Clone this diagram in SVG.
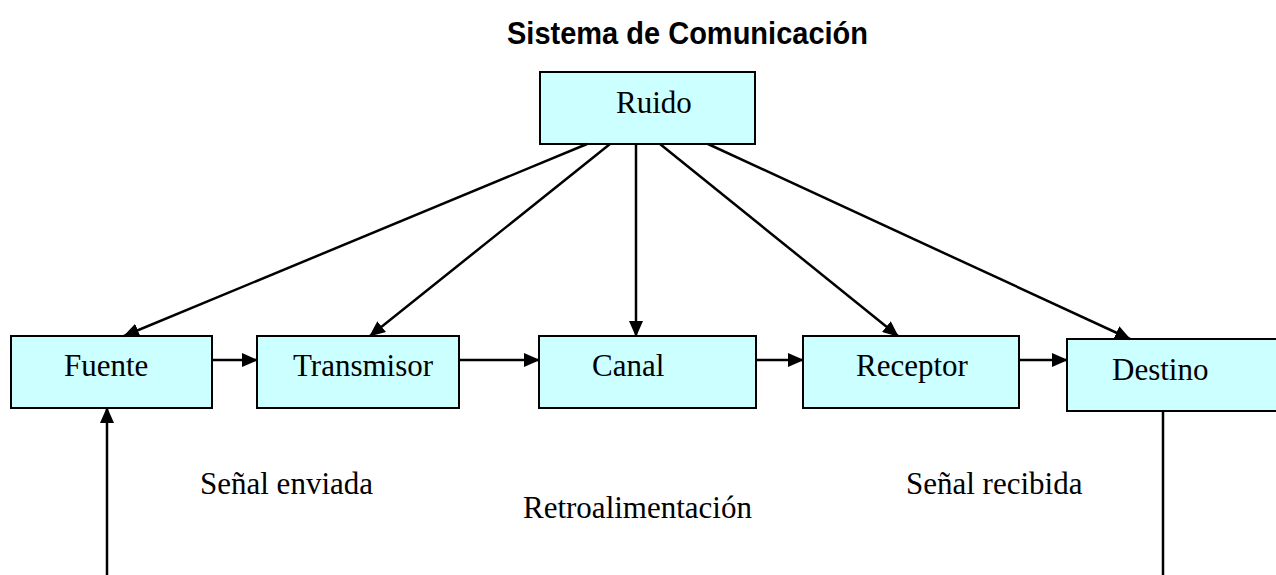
<svg xmlns="http://www.w3.org/2000/svg" width="1276" height="575" viewBox="0 0 1276 575">
  <style>
    .box { fill: #ccffff; stroke: #000; stroke-width: 2; }
    .lbl { font-family: "Liberation Serif", "Times New Roman", serif; font-size: 31px; fill: #000; }
    .title { font-family: "Liberation Sans", Arial, sans-serif; font-size: 32px; font-weight: bold; fill: #000; }
    .wire { stroke: #000; stroke-width: 2.5; fill: none; }
  </style>
  <defs>
    <marker id="arrow" markerUnits="userSpaceOnUse" markerWidth="16" markerHeight="14" refX="15" refY="7" orient="auto">
      <path d="M0,0 L16,7 L0,14 z" fill="#000"/>
    </marker>
  </defs>

  <rect width="1276" height="575" fill="#fff"/>

  <text class="title" x="507" y="44" textLength="361" lengthAdjust="spacingAndGlyphs">Sistema de Comunicación</text>

  <g id="ruido">
    <rect class="box" x="540" y="72" width="215" height="72"/>
    <text class="lbl" x="616" y="113">Ruido</text>
  </g>
  <g id="fuente">
    <rect class="box" x="11" y="336" width="201" height="72"/>
    <text class="lbl" x="64" y="376">Fuente</text>
  </g>
  <g id="transmisor">
    <rect class="box" x="257" y="336" width="202" height="72"/>
    <text class="lbl" x="293" y="376">Transmisor</text>
  </g>
  <g id="canal">
    <rect class="box" x="539" y="336" width="217" height="72"/>
    <text class="lbl" x="592" y="376">Canal</text>
  </g>
  <g id="receptor">
    <rect class="box" x="803" y="336" width="216" height="72"/>
    <text class="lbl" x="856" y="376">Receptor</text>
  </g>
  <g id="destino">
    <rect class="box" x="1067" y="339" width="230" height="72"/>
    <text class="lbl" x="1112" y="380">Destino</text>
  </g>

  <g id="etiquetas">
    <text class="lbl" x="200" y="494">Señal enviada</text>
    <text class="lbl" x="523" y="518">Retroalimentación</text>
    <text class="lbl" x="906" y="494">Señal recibida</text>
  </g>

  <g id="connectors">
    <!-- ruido hacia cada etapa -->
    <line class="wire" x1="587" y1="144" x2="124" y2="336" marker-end="url(#arrow)"/>
    <line class="wire" x1="610" y1="144" x2="370" y2="336" marker-end="url(#arrow)"/>
    <line class="wire" x1="636" y1="144" x2="636" y2="336" marker-end="url(#arrow)"/>
    <line class="wire" x1="660" y1="144" x2="898" y2="336" marker-end="url(#arrow)"/>
    <line class="wire" x1="708" y1="144" x2="1130" y2="339" marker-end="url(#arrow)"/>
    <!-- cadena principal -->
    <line class="wire" x1="212" y1="360" x2="257" y2="360" marker-end="url(#arrow)"/>
    <line class="wire" x1="459" y1="360" x2="539" y2="360" marker-end="url(#arrow)"/>
    <line class="wire" x1="756" y1="360" x2="803" y2="360" marker-end="url(#arrow)"/>
    <line class="wire" x1="1019" y1="360" x2="1067" y2="360" marker-end="url(#arrow)"/>
    <!-- retroalimentación -->
    <line class="wire" x1="1163" y1="411" x2="1163" y2="575"/>
    <line class="wire" x1="107" y1="575" x2="107" y2="408" marker-end="url(#arrow)"/>
  </g>
</svg>
